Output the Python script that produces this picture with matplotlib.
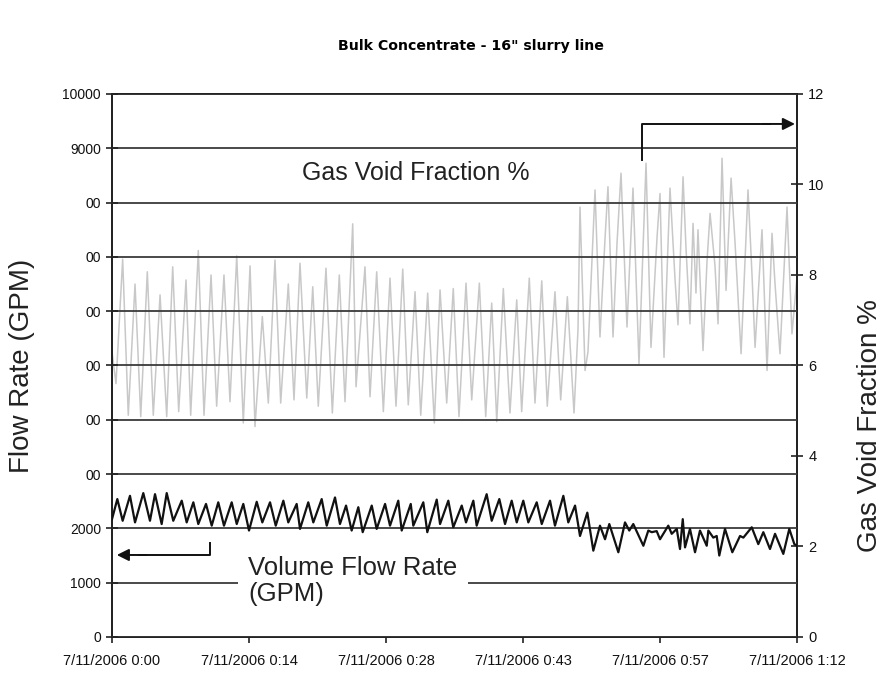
import matplotlib
matplotlib.use("Agg")
import matplotlib.pyplot as plt
import numpy as np

plt.rcParams['font.family'] = ['Liberation Sans', 'DejaVu Sans']

# ---- data (time in minutes after 7/11/2006 0:00) ----
gvf_time = [0.00, 0.42, 1.12, 1.71, 2.42, 3.02, 3.71, 4.34, 5.05, 5.75, 6.38, 7.01, 7.78, 8.27,
            9.07, 9.67, 10.41, 11.00, 11.77, 12.40, 13.11, 13.80, 14.51, 15.03, 15.80, 16.43,
            17.13, 17.73, 18.53, 19.13, 19.76, 20.47, 21.10, 21.68, 22.49, 23.16, 23.89, 24.49,
            25.30, 25.65, 26.59, 27.12, 27.82, 28.52, 29.22, 29.85, 30.56, 31.14, 31.85, 32.45,
            33.18, 33.88, 34.48, 35.18, 35.87, 36.47, 37.21, 37.81, 38.61, 39.28, 39.91, 40.44,
            41.13, 41.83, 42.54, 43.06, 43.86, 44.46, 45.17, 45.75, 46.56, 47.16, 47.86, 48.56,
            48.98, 49.19, 49.72, 50.03, 50.77, 51.29, 51.82, 52.13, 52.66, 53.08, 53.50, 54.13,
            54.76, 55.39, 56.13, 56.65, 57.29, 57.60, 58.02, 58.65, 59.18, 59.49, 60.02, 60.33,
            60.75, 61.07, 61.38, 61.59, 62.12, 62.54, 62.86, 63.38, 63.70, 64.12, 64.54, 65.07,
            65.49, 66.12, 66.85, 67.27, 67.59, 68.32, 68.85, 69.37, 69.69, 70.21, 70.95, 71.47,
            72.00]
gvf_value = [6.30, 5.60, 8.35, 4.90, 7.80, 4.87, 8.07, 4.90, 7.56, 4.87, 8.18, 4.98, 7.89, 4.90,
             8.54, 4.90, 8.00, 5.10, 8.00, 5.20, 8.42, 4.73, 8.20, 4.65, 7.08, 5.17,
             8.33, 5.17, 7.80, 5.24, 8.26, 5.28, 7.74, 5.10, 8.15, 4.95, 8.00, 5.20,
             9.13, 5.53, 8.18, 5.31, 8.07, 4.98, 7.93, 5.10, 8.13, 5.13, 7.63, 4.90,
             7.60, 4.73, 7.67, 5.17, 7.70, 4.87, 7.82, 5.24, 7.82, 4.87, 7.38, 4.76,
             7.70, 4.95, 7.45, 4.98, 7.93, 5.17, 7.87, 5.10, 7.63, 5.24, 7.52, 4.95,
             6.80, 9.50, 5.89, 6.30, 9.88, 6.63, 8.80, 9.95, 6.63, 8.70, 10.25, 6.85,
             9.92, 6.04, 10.47, 6.40, 8.84, 9.80, 6.18, 9.92, 7.90, 6.90, 10.17, 8.60,
             6.92, 9.14, 7.60, 9.00, 6.33, 8.30, 9.36, 8.20, 6.92, 10.58, 7.66, 10.14,
             8.70, 6.26, 9.88, 8.00, 6.40, 9.00, 5.89, 8.92, 7.80, 6.26, 9.50, 6.70,
             7.96]

flow_time = [0.00, 0.56, 1.12, 1.89, 2.42, 3.29, 3.99, 4.52, 5.22, 5.75, 6.44, 7.33, 7.85, 8.55,
             9.07, 9.88, 10.48, 11.17, 11.77, 12.58, 13.11, 13.80, 14.40, 15.21, 15.80, 16.61,
             17.21, 18.01, 18.53, 19.41, 19.76, 20.63, 21.16, 22.04, 22.57, 23.44, 23.96, 24.60,
             25.19, 25.89, 26.35, 27.30, 27.82, 28.70, 29.22, 30.09, 30.45, 31.40, 31.67, 32.72,
             33.14, 34.13, 34.48, 35.35, 35.87, 36.76, 37.21, 37.98, 38.33, 39.38, 39.91, 40.71,
             41.31, 42.01, 42.54, 43.23, 43.76, 44.64, 45.17, 46.04, 46.56, 47.44, 47.96, 48.67,
             49.19, 49.96, 50.59, 51.29, 51.82, 52.27, 53.22, 53.92, 54.37, 54.79, 55.85, 56.37,
             56.73, 57.25, 57.60, 58.47, 58.83, 59.36, 59.70, 59.99, 60.23, 60.75, 61.28, 61.80,
             62.51, 62.68, 63.20, 63.56, 63.83, 64.43, 65.20, 66.01, 66.36, 67.24, 67.93, 68.46,
             69.16, 69.69, 70.56, 71.19, 71.72, 72.00]
flow_value = [2170, 2540, 2140, 2600, 2110, 2650, 2140, 2630, 2080, 2650, 2140, 2510, 2110, 2480,
              2080, 2450, 2050, 2480, 2050, 2480, 2080, 2450, 1960, 2490, 2110, 2480,
              2050, 2510, 2110, 2450, 1990, 2480, 2110, 2540, 2050, 2570, 2080, 2420,
              1960, 2390, 1930, 2420, 1990, 2450, 2050, 2510, 1960, 2450, 2050, 2480,
              1930, 2530, 2080, 2510, 2020, 2420, 2110, 2510, 2050, 2630, 2140, 2540,
              2080, 2510, 2110, 2510, 2110, 2480, 2080, 2510, 2050, 2600, 2110, 2420,
              1860, 2290, 1590, 2050, 1800, 2080, 1560, 2110, 1960, 2080, 1680, 1960,
              1930, 1950, 1800, 2050, 1900, 1990, 1620, 2170, 1650, 1990, 1560, 1960,
              1680, 1960, 1830, 1860, 1500, 1990, 1560, 1860, 1830, 2020, 1710, 1930,
              1620, 1900, 1530, 1990, 1710, 1680]

x_tick_labels = ['7/11/2006 0:00', '7/11/2006 0:14', '7/11/2006 0:28',
                 '7/11/2006 0:43', '7/11/2006 0:57', '7/11/2006 1:12']
left_ticks = [0, 1000, 2000, 3000, 4000, 5000, 6000, 7000, 8000, 9000, 10000]
left_tick_labels = ['0', '1000', '2000', '00', '00', '00', '00', '00', '00', '9000', '10000']
right_ticks = [0, 2, 4, 6, 8, 10, 12]

# ---- figure ----
fig = plt.figure(figsize=(8.84, 6.85), dpi=100)
ax = fig.add_axes([0.1267, 0.0701, 0.7749, 0.7927])
ax2 = ax.twinx()
ax.set_zorder(ax2.get_zorder() + 1)
ax.patch.set_visible(False)

ax2.plot(gvf_time, gvf_value, color='#c8c8c8', lw=1.1)
ax.plot(flow_time, flow_value, color='#111111', lw=1.6, zorder=3)

ax.set_xlim(0, 72)
ax.set_ylim(0, 10000)
ax2.set_ylim(0, 12)

ax.set_yticks(left_ticks)
ax.set_yticklabels(left_tick_labels)
ax2.set_yticks(right_ticks)
ax.set_xticks(np.linspace(0, 72, len(x_tick_labels)))
ax.set_xticklabels(x_tick_labels)

for a in (ax, ax2):
    for s in a.spines.values():
        s.set_color('#222222')
        s.set_linewidth(1.3)

ax.yaxis.grid(True, color='#3a3a3a', lw=1.3)
ax.set_axisbelow(False)

ax.tick_params(axis='y', direction='inout', length=8, width=1.2, labelsize=10, pad=4, colors='#222222')
ax2.tick_params(axis='y', direction='inout', length=8, width=1.2, labelsize=10.5, pad=4, colors='#222222')
ax.tick_params(axis='x', direction='out', length=4, width=1.2, labelsize=10.5, pad=8, colors='#222222')
for lab in ax.get_xticklabels() + ax.get_yticklabels() + ax2.get_yticklabels():
    lab.set_color('#111111')

ax.set_ylabel('Flow Rate (GPM)', fontsize=20, color='#222222')
ax.yaxis.set_label_coords(-0.112, 0.5)
ax2.set_ylabel('Gas Void Fraction %', fontsize=20, color='#222222')
ax2.yaxis.set_label_coords(1.088, 0.39)

fig.text(471 / 884, 1 - 46 / 685, 'Bulk Concentrate - 16" slurry line',
         ha='center', va='center', fontsize=10.2, fontweight='heavy',
         family=['DejaVu Sans'])

# annotations
ax.text(0.2774, 0.8545, 'Gas Void Fraction %', transform=ax.transAxes,
        ha='left', va='center', fontsize=18, color='#222222', zorder=5)
ax.plot([0.7737, 0.7737, 0.96], [0.8785, 0.9448, 0.9448], transform=ax.transAxes,
        color='#111111', lw=1.4, zorder=5, clip_on=False)
ax.annotate('', xy=(0.997, 0.9448), xytext=(0.95, 0.9448), xycoords='axes fraction',
            arrowprops=dict(arrowstyle='-|>', color='#111111', lw=1.4,
                            mutation_scale=18, shrinkA=0, shrinkB=0), zorder=5)

ax.text(0.1985, 0.103, 'Volume Flow Rate\n(GPM)', transform=ax.transAxes,
        ha='left', va='center', fontsize=18.5, color='#222222', linespacing=1.15,
        bbox=dict(boxstyle='square,pad=0.4', facecolor='white', edgecolor='none'), zorder=5)
ax.plot([0.1431, 0.1431, 0.04], [0.1731, 0.1510, 0.1510], transform=ax.transAxes,
        color='#111111', lw=1.4, zorder=5)
ax.annotate('', xy=(0.007, 0.1510), xytext=(0.05, 0.1510), xycoords='axes fraction',
            arrowprops=dict(arrowstyle='-|>', color='#111111', lw=1.4,
                            mutation_scale=18, shrinkA=0, shrinkB=0), zorder=5)

fig.savefig('out.png', dpi=100, facecolor='white')
